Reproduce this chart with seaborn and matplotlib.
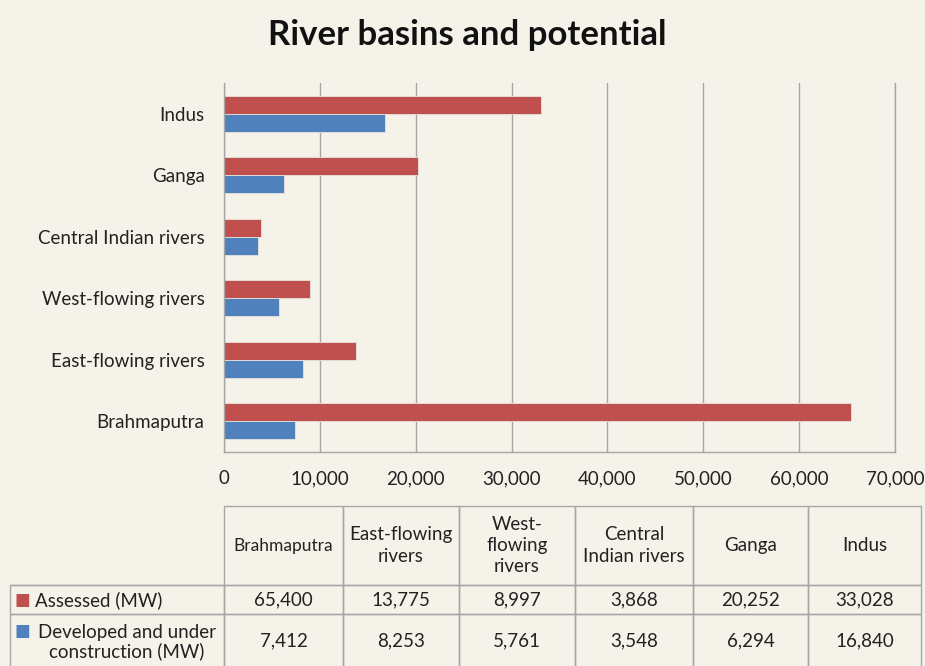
import numpy as np
import pandas as pd
import matplotlib
matplotlib.use('Agg')
import matplotlib.pyplot as plt
import seaborn as sns

# data (table order)
basins = ['Brahmaputra', 'East-flowing rivers', 'West-flowing rivers',
          'Central Indian rivers', 'Ganga', 'Indus']
header_labels = ['Brahmaputra', 'East-flowing\nrivers', 'West-\nflowing\nrivers',
                 'Central\nIndian rivers', 'Ganga', 'Indus']
assessed = [65400, 13775, 8997, 3868, 20252, 33028]
developed = [7412, 8253, 5761, 3548, 6294, 16840]
series = ['Assessed (MW)', 'Developed and under construction (MW)']
xticks = [0, 10000, 20000, 30000, 40000, 50000, 60000, 70000]

RED = '#c0504d'
BLUE = '#4f81bd'
BG = '#f5f2ea'
GRID = '#a6a6a6'
TXT = '#222222'

sns.set_style('white')
plt.rcParams['font.family'] = ['Lato', 'DejaVu Sans']

df = pd.DataFrame({
    'basin': basins * 2,
    'MW': assessed + developed,
    'series': [series[0]] * 6 + [series[1]] * 6,
})

fig = plt.figure(figsize=(9.25, 6.66), dpi=100, facecolor=BG)
W, H = 925, 666

# main bar chart
ax = fig.add_axes([224 / W, 1 - 452 / H, (895 - 224) / W, (452 - 83) / H])
ax.set_facecolor(BG)
sns.barplot(data=df, y='basin', x='MW', hue='series', order=basins[::-1],
            hue_order=series, palette=[RED, BLUE], width=0.58, orient='h',
            legend=False, ax=ax, saturation=1, linewidth=0.6,
            edgecolor='#e8e4dc')
ax.set_xlim(0, 70000)
ax.set_ylim(5.5, -0.5)
ax.set_xticks(xticks)
ax.set_xticklabels([f'{v:,}' for v in xticks], fontsize=13.5, color=TXT)
ax.tick_params(axis='y', labelsize=13.5, labelcolor=TXT, length=0, pad=14)
ax.tick_params(axis='x', length=0, pad=13)
ax.set_xlabel('')
ax.set_ylabel('')
ax.xaxis.grid(True, color=GRID, linewidth=1)
ax.set_axisbelow(True)
for side in ['left', 'bottom', 'right']:
    ax.spines[side].set_color(GRID)
    ax.spines[side].set_linewidth(1)
ax.spines['top'].set_visible(False)

fig.text(0.505, 1 - 35 / H, 'River basins and potential', ha='center',
         va='center', fontsize=25, fontweight='bold', color='#111111')

# data table below
col_px = [214, 119, 116, 116, 118, 115, 113]
row_px = [79, 29, 53]
tx0, ty0 = 10, 506
tw, th = sum(col_px), sum(row_px)
tax = fig.add_axes([tx0 / W, 1 - (ty0 + th) / H, tw / W, th / H])
tax.axis('off')

cell_text = [[''] + header_labels,
             [''] + [f'{v:,}' for v in assessed],
             [''] + [f'{v:,}' for v in developed]]
tab = tax.table(cellText=cell_text, cellLoc='center', bbox=[0, 0, 1, 1])
tab.auto_set_font_size(False)
for (r, c), cell in tab.get_celld().items():
    cell.set_width(col_px[c] / tw)
    cell.set_height(row_px[r] / th)
    cell.set_facecolor('none')
    cell.set_edgecolor(GRID)
    cell.set_linewidth(1)
    cell.get_text().set_fontsize(13.5)
    cell.get_text().set_color(TXT)
    if r == 0:
        cell.get_text().set_multialignment('center')
        cell.get_text().set_linespacing(1.3)
        if c == 1:
            cell.get_text().set_fontsize(12.5)
    if r == 0 and c == 0:
        cell.visible_edges = 'B'

# row labels with legend squares
def fy(px):
    return 1 - (px - ty0) / th

def fx(px):
    return (px - tx0) / tw

tax.text(fx(15), fy(600), '■', color=RED, fontsize=12, va='center', ha='left',
         family=['DejaVu Sans'])
tax.text(fx(35), fy(600), 'Assessed (MW)', fontsize=13.5, va='center', ha='left',
         color=TXT)
tax.text(fx(15), fy(631), '■', color=BLUE, fontsize=12, va='center', ha='left',
         family=['DejaVu Sans'])
tax.text(fx(127), fy(642), 'Developed and under\nconstruction (MW)', fontsize=13.5,
         va='center', ha='center', multialignment='center', color=TXT,
         linespacing=1.05)

fig.savefig('out.png', dpi=100, facecolor=BG)
